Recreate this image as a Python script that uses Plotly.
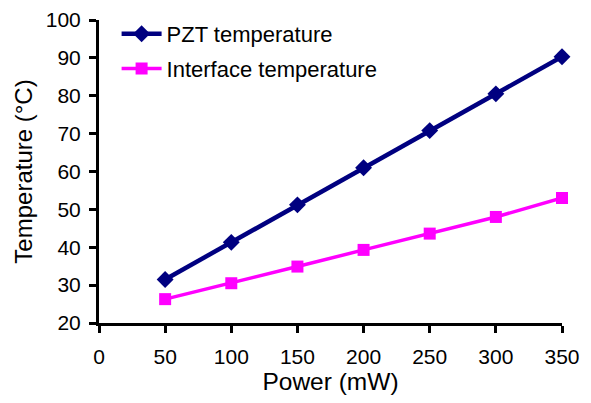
import plotly.graph_objects as go

power = [50, 100, 150, 200, 250, 300, 350]
pzt_temp = [31.5, 41.3, 51.2, 61.0, 70.8, 80.5, 90.3]
interface_temp = [26.3, 30.5, 34.9, 39.3, 43.6, 48.0, 53.0]
x_ticks = [0, 50, 100, 150, 200, 250, 300, 350]
y_ticks = [20, 30, 40, 50, 60, 70, 80, 90, 100]

FONT = "Liberation Sans, Arial"

fig = go.Figure()
fig.add_trace(go.Scatter(
    x=power, y=pzt_temp, mode="lines+markers", name="PZT temperature",
    legendgroup="a",
    line=dict(color="#000080", width=4.5),
    marker=dict(symbol="diamond", size=13, color="#000080"),
    cliponaxis=False,
))
fig.add_trace(go.Scatter(
    x=power, y=interface_temp, mode="lines+markers", name="Interface temperature",
    legendgroup="b",
    line=dict(color="#FF00FF", width=3.5),
    marker=dict(symbol="square", size=12, color="#FF00FF"),
    cliponaxis=False,
))

axis_common = dict(
    showline=True, linecolor="black", linewidth=3,
    ticks="outside", ticklen=7, tickwidth=3, tickcolor="black",
    showgrid=False, zeroline=False, automargin=False,
    tickfont=dict(family=FONT, size=21, color="black"),
)
fig.update_xaxes(range=[0, 350], tickvals=x_ticks, ticktext=[str(v) for v in x_ticks],
                 title=dict(text="Power (mW)", font=dict(family=FONT, size=24.5, color="black"), standoff=6),
                 ticklabelstandoff=6,
                 **axis_common)
fig.update_yaxes(range=[20, 100], tickvals=y_ticks, ticktext=[str(v) for v in y_ticks],
                 title=dict(text="Temperature (°C)", font=dict(family=FONT, size=24, color="black"), standoff=7),
                 ticklabelstandoff=4,
                 domain=[0, 1 - 12 / 315],
                 **axis_common)

# page body has an 8px margin, so the figure is sized/margined to compensate
fig.update_layout(
    width=583, height=395,
    margin=dict(l=91, r=29, t=0, b=80),
    plot_bgcolor="white", paper_bgcolor="white",
    showlegend=True,
    legend=dict(x=0.038, y=1 - 5 / 315, xanchor="left", yanchor="top",
                bgcolor="rgba(0,0,0,0)",
                font=dict(family=FONT, size=22, color="black"),
                itemwidth=40,
                tracegroupgap=3),
)

fig.write_html("out.html")
